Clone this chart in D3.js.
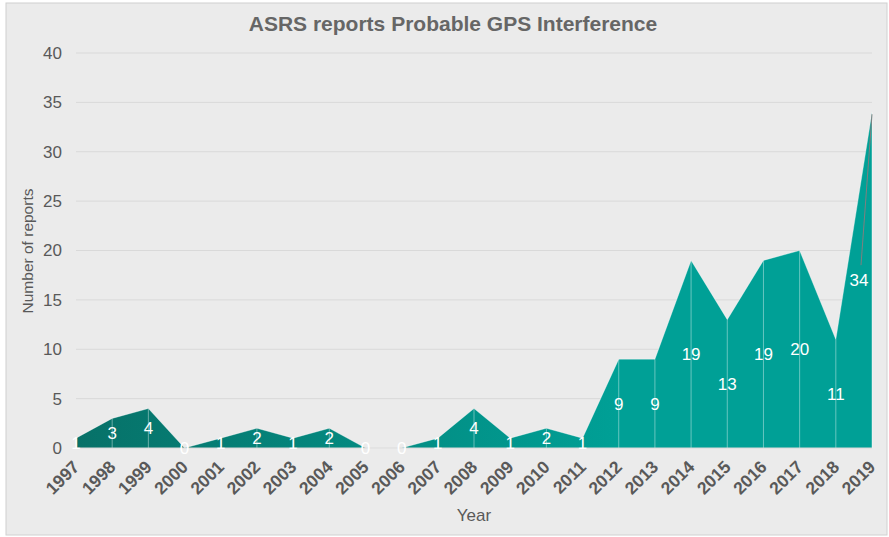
<!DOCTYPE html>
<html><head><meta charset="utf-8">
<script src="https://cdn.jsdelivr.net/npm/d3@7/dist/d3.min.js"></script>
<style>body{margin:0;background:#fff}svg{display:block}text{font-family:Arial,"Liberation Sans",sans-serif}</style>
</head><body><svg id="c" width="889" height="537"></svg>
<script>
const years = ["1997","1998","1999","2000","2001","2002","2003","2004","2005","2006","2007","2008","2009","2010","2011","2012","2013","2014","2015","2016","2017","2018","2019"];
const reports = [1,3,4,0,1,2,1,2,0,0,1,4,1,2,1,9,9,19,13,19,20,11,34];
const yTicks = [0,5,10,15,20,25,30,35,40];
const title = "ASRS reports Probable GPS Interference";
const xTitle = "Year";
const yTitle = "Number of reports";

const data = years.map((y,i)=>({year:y, v:reports[i]}));
const svg = d3.select("#c");
const W = 889, H = 537;
svg.append("rect").attr("x",6).attr("y",3).attr("width",W-8).attr("height",H-5).attr("fill","#ebebeb").attr("stroke","#d0d0d0");

const x = d3.scalePoint().domain(years).range([76,872]);
const y = d3.scaleLinear().domain([0,40]).range([448,53]);

// gridlines
svg.append("g").selectAll("line").data(yTicks.filter(t=>t>0)).join("line")
  .attr("x1",76).attr("x2",872).attr("y1",d=>y(d)).attr("y2",d=>y(d))
  .attr("stroke","#d9d9d9").attr("stroke-width",1);

// y axis
const yAxis = d3.axisLeft(y).tickValues(yTicks).tickSize(0).tickPadding(14);
const gy = svg.append("g").attr("transform","translate(76,0)").call(yAxis);
gy.select(".domain").remove();
gy.selectAll("text").attr("font-size",17).attr("fill","#595959").attr("font-family","Arial, Liberation Sans, sans-serif");

// gradient
const defs = svg.append("defs");
const grad = defs.append("linearGradient").attr("id","g1").attr("gradientUnits","userSpaceOnUse")
  .attr("x1",x("1997")).attr("x2",x("2012")).attr("y1",0).attr("y2",0);
grad.append("stop").attr("offset","0").attr("stop-color","#077168");
grad.append("stop").attr("offset","1").attr("stop-color","#00a096");

const area = d3.area().x(d=>x(d.year)).y0(y(0)).y1(d=>y(d.v));
svg.append("path").datum(data).attr("d",area).attr("fill","url(#g1)");
const line = d3.line().x(d=>x(d.year)).y(d=>y(d.v));
svg.append("path").datum(data).attr("d",line).attr("fill","none").attr("stroke","rgba(255,255,255,0.35)").attr("stroke-width",1);

// drop lines
svg.append("g").selectAll("line").data(data).join("line")
  .attr("x1",d=>x(d.year)).attr("x2",d=>x(d.year))
  .attr("y1",d=>y(d.v)).attr("y2",y(0))
  .attr("stroke","rgba(255,255,255,0.4)").attr("stroke-width",1);

// baseline
svg.append("line").attr("x1",76).attr("x2",872).attr("y1",y(0)).attr("y2",y(0)).attr("stroke","#d9d9d9");

// x axis
const xAxis = d3.axisBottom(x).tickSize(0).tickPadding(0);
const gx = svg.append("g").attr("transform",`translate(0,${y(0)})`).call(xAxis);
gx.select(".domain").remove();
gx.selectAll("text").attr("font-size",17.5).attr("font-weight","bold").attr("fill","#595959")
  .attr("font-family","Arial, Liberation Sans, sans-serif")
  .attr("text-anchor","end").attr("dy",null).attr("y",0)
  .attr("transform","translate(4,20) rotate(-45)");

// data labels
const lbl = svg.append("g");
data.forEach((d,i)=>{
  const last = i===data.length-1;
  const lx = last ? x(d.year)-13 : x(d.year);
  const ly = (y(0)+y(d.v))/2;
  lbl.append("text").attr("x",lx).attr("y",ly).attr("dy","0.35em").attr("text-anchor","middle")
    .attr("font-size",17).attr("fill","#fff").text(d.v);
  if(last){
    lbl.append("line").attr("x1",lx+2).attr("y1",ly-15).attr("x2",x(d.year)).attr("y2",y(d.v)+2)
      .attr("stroke","#7f7f7f").attr("stroke-width",1);
  }
});

// titles
svg.append("text").attr("x",453).attr("y",31).attr("text-anchor","middle").attr("font-size",21)
  .attr("font-weight","bold").attr("fill","#666").text(title);
svg.append("text").attr("x",474).attr("y",521).attr("text-anchor","middle").attr("font-size",17)
  .attr("fill","#595959").text(xTitle);
svg.append("text").attr("transform","translate(33,251) rotate(-90)").attr("text-anchor","middle")
  .attr("font-size",15.5).attr("fill","#595959").text(yTitle);
</script></body></html>
